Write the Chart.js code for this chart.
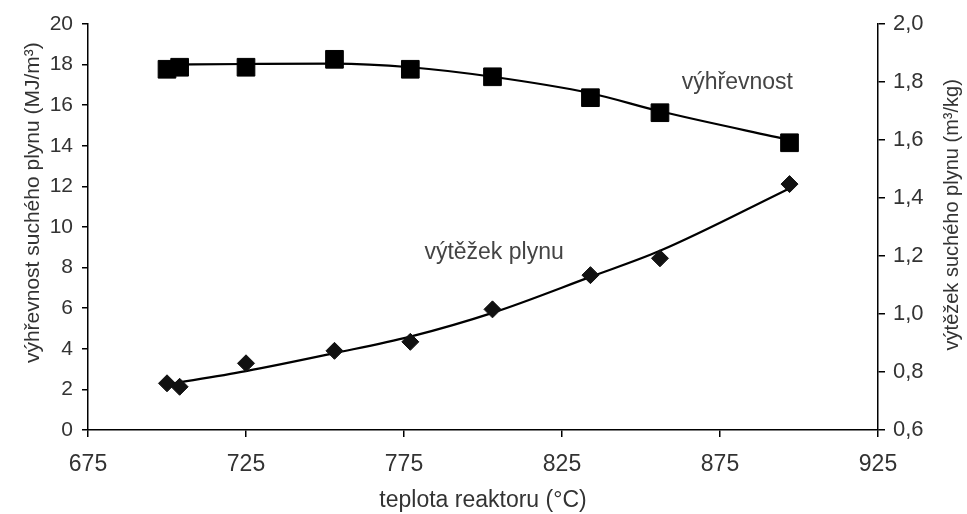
<!DOCTYPE html>
<html>
<head>
<meta charset="utf-8">
<script src="https://cdn.jsdelivr.net/npm/chart.js@4"></script>
<style>
html,body{margin:0;padding:0;background:#fff;}
#wrap{width:967px;height:514px;}
</style>
</head>
<body>
<div id="wrap"><canvas id="c" width="967" height="514"></canvas></div>
<script>
// Data
const temperatures = [700, 704, 725, 753, 777, 803, 834, 856, 897];
const heatingValue = [17.77, 17.87, 17.87, 18.26, 17.77, 17.40, 16.37, 15.63, 14.15]; // MJ/m3 (left axis)
const gasYield = [0.761, 0.749, 0.830, 0.873, 0.904, 1.016, 1.134, 1.192, 1.448];     // m3/kg (right axis)

// Trend curves
const trendTemps = [700, 725, 753, 777, 803, 834, 856, 897];
const heatingTrend = [18.00, 18.03, 18.05, 17.87, 17.40, 16.59, 15.70, 14.29];
const yieldTrend = [0.757, 0.803, 0.865, 0.922, 1.004, 1.128, 1.218, 1.433];

// Axis ticks
const xTicks = [675, 725, 775, 825, 875, 925];
const leftTicks = [0, 2, 4, 6, 8, 10, 12, 14, 16, 18, 20];
const rightTicks = [0.6, 0.8, 1.0, 1.2, 1.4, 1.6, 1.8, 2.0];

// Labels
const xTitle = 'teplota reaktoru (°C)';
const leftTitle = 'výhřevnost suchého plynu (MJ/m³)';
const rightTitle = 'výtěžek suchého plynu (m³/kg)';
const seriesLabels = [
  {text: 'výhřevnost', x: 880.5, y: 17.1, axis: 'y'},
  {text: 'výtěžek plynu', x: 803.5, y: 8.72, axis: 'y'}
];

const toXY = (xs, ys) => xs.map((x, i) => ({x: x, y: ys[i]}));
const FONT = "'Liberation Sans', Arial, sans-serif";

const labelPlugin = {
  id: 'seriesLabels',
  afterDatasetsDraw(chart) {
    const ctx = chart.ctx;
    const area = chart.chartArea;
    ctx.save();
    ctx.font = '23px ' + FONT;
    ctx.fillStyle = '#444';
    ctx.textAlign = 'center';
    ctx.textBaseline = 'middle';
    seriesLabels.forEach(l => {
      ctx.fillText(l.text, chart.scales.x.getPixelForValue(l.x), chart.scales[l.axis].getPixelForValue(l.y));
    });
    // vertical axis titles, both reading bottom-to-top
    ctx.fillStyle = '#333';
    ctx.font = '21px ' + FONT;
    ctx.save();
    ctx.translate(33, area.top + (area.bottom - area.top) * 0.44);
    ctx.rotate(-Math.PI / 2);
    ctx.fillText(leftTitle, 0, 0);
    ctx.restore();
    ctx.font = '20px ' + FONT;
    ctx.save();
    ctx.translate(chart.width - 15, area.top + (area.bottom - area.top) * 0.47);
    ctx.rotate(-Math.PI / 2);
    ctx.fillText(rightTitle, 0, 0);
    ctx.restore();
    ctx.restore();
  }
};

new Chart(document.getElementById('c'), {
  type: 'scatter',
  data: {
    datasets: [
      {
        label: 'výhřevnost trend', data: toXY(trendTemps, heatingTrend), yAxisID: 'y',
        showLine: true, borderColor: '#000', borderWidth: 2.2, pointRadius: 0,
        cubicInterpolationMode: 'monotone', order: 3
      },
      {
        label: 'výtěžek trend', data: toXY(trendTemps, yieldTrend), yAxisID: 'y2',
        showLine: true, borderColor: '#000', borderWidth: 2.2, pointRadius: 0,
        cubicInterpolationMode: 'monotone', order: 3
      },
      {
        label: 'výhřevnost', data: toXY(temperatures, heatingValue), yAxisID: 'y',
        showLine: false, pointStyle: 'rect', pointRadius: 12.5, borderWidth: 1,
        backgroundColor: '#000', borderColor: '#000', order: 1
      },
      {
        label: 'výtěžek plynu', data: toXY(temperatures, gasYield), yAxisID: 'y2',
        showLine: false, pointStyle: 'rectRot', pointRadius: 8.5, borderWidth: 1,
        backgroundColor: '#111', borderColor: '#111', order: 1
      }
    ]
  },
  options: {
    responsive: false,
    animation: false,
    events: [],
    layout: {padding: {top: 24, left: 0, right: 0, bottom: 0}},
    plugins: {legend: {display: false}, tooltip: {enabled: false}},
    scales: {
      x: {
        type: 'linear', position: 'bottom', min: 675, max: 925,
        afterBuildTicks: s => { s.ticks = xTicks.map(v => ({value: v})); },
        afterFit: s => { s.height = 84; },
        border: {color: '#000', width: 1.5},
        grid: {drawOnChartArea: false, color: '#000', tickLength: 7, lineWidth: 1.5},
        ticks: {color: '#333', font: {family: FONT, size: 23}, padding: 14, maxRotation: 0},
        title: {display: true, text: xTitle, color: '#333', font: {family: FONT, size: 23}, padding: {top: 0, bottom: 0}}
      },
      y: {
        type: 'linear', position: 'left', min: 0, max: 20,
        afterBuildTicks: s => { s.ticks = leftTicks.map(v => ({value: v})); },
        afterFit: s => { s.width = 88; },
        border: {color: '#000', width: 1.5},
        grid: {drawOnChartArea: false, color: '#000', tickLength: 6, lineWidth: 1.5},
        ticks: {color: '#333', font: {family: FONT, size: 21}, padding: 9}
      },
      y2: {
        type: 'linear', position: 'right', min: 0.6, max: 2.0,
        afterBuildTicks: s => { s.ticks = rightTicks.map(v => ({value: v})); },
        afterFit: s => { s.width = 89; },
        border: {color: '#000', width: 1.5},
        grid: {drawOnChartArea: false, color: '#000', tickLength: 7, lineWidth: 1.5},
        ticks: {color: '#333', font: {family: FONT, size: 22}, padding: 8,
          callback: v => v.toFixed(1).replace('.', ',')}
      }
    }
  },
  plugins: [labelPlugin]
});
</script>
</body>
</html>
